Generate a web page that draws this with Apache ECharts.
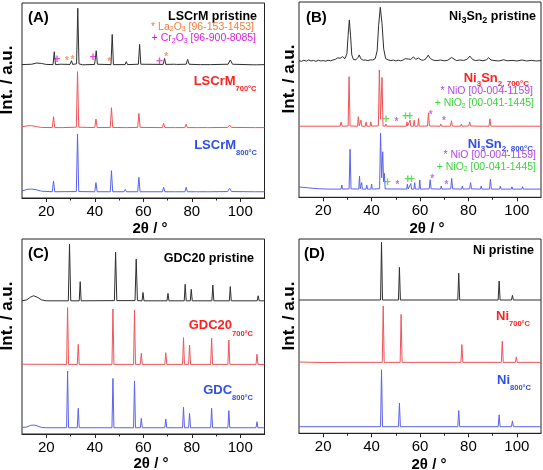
<!DOCTYPE html>
<html><head><meta charset="utf-8">
<script src="https://cdn.jsdelivr.net/npm/echarts@6/dist/echarts.min.js"></script>
<style>html,body{margin:0;padding:0;background:#fff}#c{width:543px;height:470px}</style>
</head><body><div id="c"></div><script>
// ---------- data (2θ in degrees, intensity in stacked a.u.) ----------
const X_TICKS = [20, 40, 60, 80, 100];
const X_MINOR_TICKS = [30, 50, 70, 90];

const lscrmPristine = [[10,68.4],[14,68.6],[16,69.2],[18,69.0],[20,68.5],[22.8,68.4],[23.3,75],[23.8,68.4],[26,68.6],[29.8,68.5],[30.4,70.4],[30.9,68.5],[32.5,68.8],[33.0,97.3],[33.5,68.8],[35,68.3],[39.9,68.5],[40.3,72.0],[40.6,75.5],[41.1,68.6],[46.7,68.4],[47.2,83.9],[47.7,68.4],[52.5,68.4],[53.0,69.9],[53.5,68.4],[58.0,68.6],[58.5,78.8],[59.0,68.6],[68.2,68.5],[68.8,71.6],[69.3,68.5],[72.8,68.6],[73.3,69.0],[73.8,68.5],[77.7,68.6],[78.3,71.1],[78.9,68.6],[82.6,68.4],[83.1,69.4],[83.6,68.4],[86.7,68.4],[87.2,69.1],[87.7,68.4],[95.0,68.6],[95.9,70.8],[96.8,68.6],[105.6,68.3],[106.2,69.1],[106.8,68.3],[110,68.4]];
const lscrm700 = [[10,36.5],[12,37.0],[14,37.1],[16,36.6],[18,36.2],[22.5,36.1],[23.0,41.7],[23.5,36.1],[25.7,36.1],[26.2,37.0],[26.7,36.1],[32.4,36.3],[32.9,64.8],[33.4,36.3],[40.0,36.1],[40.5,40.5],[41.0,36.1],[46.4,36.2],[46.9,46.3],[47.4,36.2],[52.1,36.1],[52.6,37.1],[53.1,36.1],[57.7,36.2],[58.2,43.4],[58.7,36.2],[67.9,36.1],[68.4,38.3],[68.9,36.1],[72.3,36.1],[72.8,36.6],[73.3,36.1],[77.2,36.1],[77.7,37.9],[78.2,36.1],[81.9,36.1],[82.4,37.0],[82.9,36.1],[86.4,36.1],[86.9,36.6],[87.4,36.1],[94.8,36.2],[95.6,37.4],[96.4,36.2],[105.3,36.1],[105.8,36.6],[106.3,36.1],[110,36.1]];
const lscrm800 = [[10,3.6],[12,4.4],[14,4.6],[16,4.2],[18,3.5],[22.5,3.2],[23.0,8.7],[23.5,3.2],[32.4,3.3],[32.9,32.7],[33.4,3.3],[40.0,3.2],[40.5,7.9],[41.0,3.2],[46.4,3.2],[46.9,14.0],[47.4,3.2],[52.1,3.2],[52.6,4.4],[53.1,3.2],[57.7,3.2],[58.2,10.6],[58.7,3.2],[67.9,3.2],[68.4,5.5],[68.9,3.2],[72.3,3.2],[72.8,4.1],[73.3,3.2],[77.2,3.2],[77.7,5.5],[78.2,3.2],[81.9,3.2],[82.4,4.1],[82.9,3.2],[86.4,3.2],[86.9,4.1],[87.4,3.2],[94.8,3.3],[95.6,5.0],[96.4,3.3],[105.3,3.2],[105.8,3.7],[106.3,3.2],[110,3.2]];

const nisnPristine = [[10,70.0],[11,69.6],[12,70.2],[13,69.7],[14,70.3],[15,69.8],[16,70.1],[17,69.6],[18,70.2],[19,69.8],[20,70.0],[21,69.7],[22,70.2],[23,69.9],[24,70.3],[25,70.6],[26,71.4],[27,71.2],[28,72.0],[29,71.0],[29.8,73.5],[30.3,83],[30.8,90.8],[31.3,83],[31.8,73],[32.5,70.5],[33.5,70.4],[34.3,71.5],[34.9,72.9],[35.5,71],[36.5,70.2],[37.5,70.3],[38.5,70.0],[39.5,70.4],[40.5,70.3],[41.5,71],[42.3,75],[42.9,88],[43.6,97.3],[44.3,89],[45.0,76],[45.8,71],[46.8,70.4],[48,70.0],[49,70.3],[50,69.8],[51,70.2],[52,69.9],[53,70.3],[54.0,71],[54.6,72.0],[55.3,70.8],[56.2,70.6],[57.3,71.9],[58.2,70.6],[59.4,71.3],[60.5,70.3],[61.5,70.2],[62.5,71.0],[63.4,72.8],[64.3,71.0],[65.5,70.2],[67,70.0],[68.5,70.3],[70,69.9],[71.5,70.2],[72.3,70.8],[73.1,71.6],[73.9,70.6],[75,70.0],[76.5,70.3],[78,70.1],[79.4,70.6],[80.6,72.3],[81.8,70.5],[83,70.0],[84.5,70.3],[86,69.9],[87.5,70.4],[88.4,71.5],[89.3,70.3],[91,70.0],[92.5,69.8],[94.6,70.4],[96,69.9],[98,70.1],[100,69.8],[102.2,70.3],[104,69.8],[106,70.1],[108,69.8],[110,70.0]];
const nisn700 = [[10,36.4],[27.0,36.4],[27.4,38.6],[27.8,36.4],[30.3,36.5],[30.7,61.8],[31.1,36.5],[34.2,36.4],[34.5,41.3],[34.9,36.6],[35.3,36.6],[35.6,39.5],[35.9,36.4],[37.4,36.4],[37.7,38.6],[38.0,36.4],[39.4,36.4],[39.7,38.6],[40.0,36.4],[42.8,36.6],[43.2,65.2],[43.7,40],[44.3,61.4],[44.7,36.6],[45.6,36.4],[45.9,37.5],[46.2,36.4],[54.3,36.4],[54.6,38.6],[54.9,36.5],[55.6,36.5],[55.9,39.5],[56.2,36.4],[57.3,36.4],[57.6,39.5],[57.9,36.4],[59.1,36.4],[59.4,40.4],[59.7,36.4],[63.1,36.5],[63.5,43.3],[63.9,36.5],[68.3,36.4],[68.6,37.5],[68.9,36.4],[72.6,36.4],[73.0,39.2],[73.4,36.4],[76.8,36.4],[77.1,37.5],[77.4,36.4],[80.1,36.5],[80.5,38.6],[80.9,36.5],[84.7,36.4],[85.0,37.0],[85.3,36.4],[88.5,36.4],[88.9,40.2],[89.3,36.4],[92.3,36.4],[92.6,37.0],[92.9,36.4],[97.1,36.4],[97.4,37.0],[97.7,36.4],[110,36.4]];
const nisn800 = [[10,5.3],[14,4.8],[18,4.4],[22,4.2],[27.4,4.2],[27.7,6.3],[28.0,4.2],[30.7,4.3],[31.1,24.6],[31.5,4.3],[34.7,4.2],[35.0,10.9],[35.3,4.4],[35.6,4.4],[35.9,7.5],[36.2,4.2],[37.7,4.2],[38.0,6.3],[38.3,4.2],[39.7,4.2],[40.0,6.8],[40.3,4.2],[43.3,4.4],[43.7,32.8],[44.15,10],[44.6,23.3],[44.95,8],[45.3,12.3],[45.6,4.3],[54.5,4.2],[54.8,6.8],[55.1,4.2],[55.9,4.2],[56.2,7.0],[56.5,4.2],[57.5,4.2],[57.8,7.5],[58.1,4.2],[59.6,4.2],[59.9,8.9],[60.2,4.2],[63.8,4.3],[64.2,9.0],[64.6,4.3],[68.5,4.2],[68.8,5.8],[69.1,4.2],[72.7,4.3],[73.1,9.7],[73.5,4.3],[77.2,4.2],[77.5,5.8],[77.8,4.2],[80.5,4.3],[80.9,7.5],[81.3,4.3],[85.0,4.2],[85.3,5.8],[85.6,4.2],[88.7,4.2],[89.1,9.3],[89.5,4.2],[92.9,4.2],[93.2,5.8],[93.5,4.2],[97.7,4.2],[98.0,5.4],[98.3,4.2],[102.1,4.2],[102.4,5.4],[102.7,4.2],[110,4.2]];

const gdcPristine = [[10,68.3],[12,68.8],[13.5,70.2],[14.8,70.9],[16.2,70.2],[18,68.8],[20,68.3],[29.1,68.3],[29.6,97.3],[30.1,68.3],[33.6,68.3],[34.0,78.1],[34.4,68.3],[48.1,68.4],[48.6,93.2],[49.1,68.4],[56.6,68.4],[57.1,89.7],[57.6,68.4],[59.5,68.3],[59.9,72.6],[60.3,68.3],[69.8,68.3],[70.2,72.1],[70.6,68.3],[76.9,68.3],[77.3,76.8],[77.7,68.3],[79.4,68.3],[79.8,74.2],[80.2,68.3],[88.3,68.3],[88.7,76.4],[89.1,68.3],[95.5,68.3],[95.9,75.6],[96.3,68.3],[107.0,68.3],[107.4,70.9],[107.8,68.3],[110,68.3]];
const gdc700 = [[10,35.8],[28.4,35.7],[28.8,64.8],[29.2,35.7],[32.8,35.7],[33.2,46.0],[33.6,35.7],[47.1,35.7],[47.5,64.1],[47.9,35.7],[56.0,35.7],[56.4,63.6],[56.8,35.7],[58.8,35.7],[59.2,41.4],[59.6,35.7],[68.9,35.7],[69.3,41.7],[69.7,35.7],[76.2,35.7],[76.6,49.4],[77.0,35.7],[78.7,35.7],[79.1,45.6],[79.5,35.7],[87.8,35.7],[88.2,49.1],[88.6,35.7],[94.9,35.7],[95.3,48.2],[95.7,35.7],[106.5,35.7],[106.9,40.9],[107.3,35.7],[110,35.6]];
const gdc800 = [[10,3.3],[12,3.6],[13.5,4.4],[14.8,4.6],[16.2,4.2],[18,3.4],[20,3.2],[28.4,3.2],[28.8,32.3],[29.2,3.2],[32.8,3.2],[33.2,13.2],[33.6,3.2],[47.1,3.2],[47.5,28.5],[47.9,3.2],[56.0,3.2],[56.4,27.2],[56.8,3.2],[58.8,3.2],[59.2,8.0],[59.6,3.2],[68.9,3.2],[69.3,7.7],[69.7,3.2],[76.2,3.2],[76.6,13.7],[77.0,3.2],[78.7,3.2],[79.1,10.6],[79.5,3.2],[87.8,3.2],[88.2,13.2],[88.6,3.2],[94.9,3.2],[95.3,12.0],[95.7,3.2],[106.5,3.2],[106.9,6.3],[107.3,3.2],[110,3.2]];

const niPristine = [[10,68.6],[43.7,68.6],[44.1,98.3],[44.5,68.6],[51.1,68.6],[51.5,85.4],[51.9,68.6],[75.6,68.6],[76.0,82.4],[76.4,68.6],[92.3,68.6],[92.7,78.4],[93.1,68.6],[97.8,68.6],[98.2,71.0],[98.6,68.6],[110,68.6]];
const ni700 = [[10,36.7],[20,36.4],[30,36.5],[44.4,36.5],[44.8,65.5],[45.2,36.5],[51.8,36.5],[52.2,61.2],[52.6,36.5],[76.9,36.5],[77.3,45.7],[77.7,36.5],[93.6,36.5],[94.0,47.4],[94.4,36.5],[99.4,36.5],[99.8,39.3],[100.2,36.5],[110,36.5]];
const ni800 = [[10,3.4],[43.7,3.4],[44.1,32.7],[44.5,3.4],[51.1,3.4],[51.5,15.5],[51.9,3.4],[75.6,3.4],[76.0,11.7],[76.4,3.4],[92.3,3.4],[92.7,9.5],[93.1,3.4],[97.8,3.4],[98.2,6.4],[98.6,3.4],[110,3.4]];

// phase markers [2θ, y]
const markLa2O3 = [[28.5,71.8],[30.8,72.3],[46.0,71.3],[69.5,73.8]];
const markCr2O3 = [[24.4,70.8],[39.3,71.8],[66.7,69.7]];
const markNiO = [[50.3,40.1],[64.4,43.3],[69.9,40.4],[50.7,7.5],[65.0,10.9],[70.9,7.5]];
const markNiO2 = [[46.0,39.9],[54.0,41.5],[55.8,41.5],[46.6,7.5],[54.9,8.9],[56.5,8.9]];

// ---------- styling ----------
const FONT = "'Liberation Sans', Arial, Helvetica, sans-serif";
const C_BLACK = '#2e2e2e', C_RED = '#f0545a', C_BLUE = '#5a62ee';
const T_RED = '#ff2020', T_BLUE = '#2f4fe6';
const grids = [
  {left:22, top:3, width:242.5, height:195},
  {left:299, top:2, width:242, height:195.3},
  {left:22, top:239, width:242.5, height:195},
  {left:299, top:239, width:242, height:194.3}
];
const xAxes = [], yAxes = [];
grids.forEach((g, i) => {
  xAxes.push({gridIndex:i, type:'value', min:10, max:110, position:'bottom',
    axisLine:{show:true, lineStyle:{color:'#222', width:1}},
    axisTick:{show:true, customValues:X_TICKS, length:4, lineStyle:{color:'#222'}},
    axisLabel:{customValues:X_TICKS, fontSize:15, color:'#000', margin:6, fontFamily:FONT},
    splitLine:{show:false}});
  yAxes.push({gridIndex:i, type:'value', min:0, max:100, show:false});
});
grids.forEach((g, i) => {
  xAxes.push({gridIndex:i, type:'value', min:10, max:110, position:'bottom',
    axisLine:{show:false}, axisLabel:{show:false}, splitLine:{show:false},
    axisTick:{show:true, customValues:X_MINOR_TICKS, length:2.5, lineStyle:{color:'#222'}}});
});
grids.forEach(g => { g.show = true; g.borderColor = '#222'; g.borderWidth = 1; g.backgroundColor = 'transparent'; });

function trace(i, data, color) {
  return {type:'line', xAxisIndex:i, yAxisIndex:i, data:data, showSymbol:false, symbol:'none',
    lineStyle:{color:color, width:1}, silent:true, animation:false};
}
function marks(i, data, ch, color, size, dy) {
  return {type:'scatter', xAxisIndex:i, yAxisIndex:i, data:data, symbolSize:0, silent:true, animation:false,
    itemStyle:{color:'transparent'},
    label:{show:true, position:'inside', formatter:ch, color:color, fontSize:size, fontWeight:'bold', fontFamily:FONT, offset:[0,dy]}};
}
const series = [
  trace(0, lscrmPristine, C_BLACK), trace(0, lscrm700, C_RED), trace(0, lscrm800, C_BLUE),
  trace(1, nisnPristine, C_BLACK), trace(1, nisn700, C_RED), trace(1, nisn800, C_BLUE),
  trace(2, gdcPristine, C_BLACK), trace(2, gdc700, C_RED), trace(2, gdc800, C_BLUE),
  trace(3, niPristine, C_BLACK), trace(3, ni700, C_RED), trace(3, ni800, C_BLUE),
  marks(0, markLa2O3, '*', '#f47c3c', 10, 3),
  marks(0, markCr2O3, '+', '#e01ee0', 12, 0),
  marks(1, markNiO, '*', '#b048e8', 10, 3),
  marks(1, markNiO2, '+', '#3ed23e', 12, 0)
];

// ---------- texts ----------
const graphics = [];
function txt(x, y, text, size, color, align, bold, rot) {
  graphics.push({type:'text', x:x, y:y, rotation:rot||0, silent:true,
    style:{text:text, fontSize:size, fontWeight:bold?'bold':'normal', fontFamily:FONT, fill:color,
      align:align, verticalAlign:'middle'}});
}
// rich text with subscripts; parts: [text, isSub]
function subtxt(xr, yMain, parts, color, F, S, off, bold) {
  const P = off + F/2 - S/2;
  const rich = {
    m:{fontSize:F, fontWeight:bold?'bold':'normal', fontFamily:FONT, fill:color, verticalAlign:'top'},
    s:{fontSize:S, fontWeight:bold?'bold':'normal', fontFamily:FONT, fill:color, verticalAlign:'top', padding:[P,0,0,0]}
  };
  const text = parts.map(p => '{' + (p[1]?'s':'m') + '|' + p[0] + '}').join('');
  graphics.push({type:'text', x:xr, y:yMain - F/2, silent:true,
    style:{text:text, rich:rich, align:'right', verticalAlign:'top'}});
}
// panel letters
txt(28, 17.5, '(A)', 15, '#000', 'left', true);
txt(306, 18, '(B)', 15, '#000', 'left', true);
txt(28, 254, '(C)', 15, '#000', 'left', true);
txt(304, 254, '(D)', 15, '#000', 'left', true);
// axis titles
[[7.5,80],[289.5,79],[7.5,316],[289,316]].forEach(p => txt(p[0], p[1], 'Int. / a.u.', 17, '#000', 'center', true, Math.PI/2));
[[150,229],[427,229],[151,464],[429,465]].forEach(p => txt(p[0], p[1], '2θ / °', 15, '#000', 'center', true));
// panel A
txt(257, 16.7, 'LSCrM pristine', 12.5, '#000', 'right', true);
subtxt(254, 26.5, [['* La',0],['2',1],['O',0],['3',1],[' [96-153-1453]',0]], '#f47c3c', 10.5, 7, 2.5, false);
subtxt(256, 38.3, [['+ Cr',0],['2',1],['O',0],['3',1],[' [96-900-8085]',0]], '#e01ee0', 10.5, 7, 2.5, false);
subtxt(256.5, 81, [['LSCrM',0],['700°C',1]], T_RED, 13, 7.5, 8, true);
subtxt(257, 145, [['LSCrM',0],['800°C',1]], T_BLUE, 13, 7.5, 8, true);
// panel B
subtxt(536, 16.7, [['Ni',0],['3',1],['Sn',0],['2',1],[' pristine',0]], '#000', 12.5, 9, 4, true);
subtxt(529, 78.5, [['Ni',0],['3',1],['Sn',0],['2, 700°C',1]], T_RED, 13, 8, 5, true);
subtxt(533, 91, [['* NiO [00-004-1159]',0]], '#b048e8', 10.5, 7, 2.5, false);
subtxt(534, 103.3, [['+ NiO',0],['2',1],[' [00-041-1445]',0]], '#3ed23e', 10.5, 7, 2.5, false);
subtxt(533, 144, [['Ni',0],['3',1],['Sn',0],['2, 800°C',1]], T_BLUE, 13, 8, 4.5, true);
subtxt(536, 155, [['* NiO [00-004-1159]',0]], '#b048e8', 10.5, 7, 2.5, false);
subtxt(536, 166.5, [['+ NiO',0],['2',1],[' [00-041-1445]',0]], '#3ed23e', 10.5, 7, 2.5, false);
// panel C
txt(254, 259, 'GDC20 pristine', 12.5, '#000', 'right', true);
subtxt(253, 325.5, [['GDC20',0],['700°C',1]], T_RED, 13, 7.5, 8, true);
subtxt(253, 390, [['GDC',0],['800°C',1]], T_BLUE, 13, 7.5, 8, true);
// panel D
txt(534, 251, 'Ni pristine', 12.5, '#000', 'right', true);
subtxt(530, 316, [['Ni',0],['700°C',1]], T_RED, 13, 7.5, 8, true);
subtxt(531, 380, [['Ni',0],['800°C',1]], T_BLUE, 13, 7.5, 8, true);

const chart = echarts.init(document.getElementById('c'), null, {renderer:'canvas'});
chart.setOption({
  animation:false, backgroundColor:'#fff',
  grid:grids, xAxis:xAxes, yAxis:yAxes, series:series, graphic:graphics
});
</script></body></html>
